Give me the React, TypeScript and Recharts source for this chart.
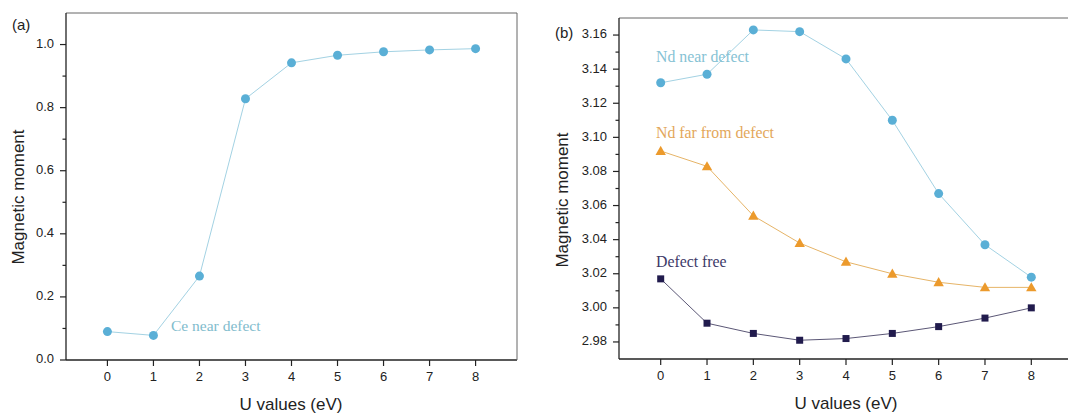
import React from "react";
import { LineChart, Line, XAxis, YAxis } from "recharts";

const uValues = [0, 1, 2, 3, 4, 5, 6, 7, 8];
const ceNearDefect = [0.09, 0.078, 0.266, 0.828, 0.942, 0.966, 0.977, 0.983, 0.987];
const ndNearDefect = [3.132, 3.137, 3.163, 3.162, 3.146, 3.11, 3.067, 3.037, 3.018];
const ndFarFromDefect = [3.092, 3.083, 3.054, 3.038, 3.027, 3.02, 3.015, 3.012, 3.012];
const defectFree = [3.017, 2.991, 2.985, 2.981, 2.982, 2.985, 2.989, 2.994, 3.0];

const xTicks = [0, 1, 2, 3, 4, 5, 6, 7, 8];
const yMajorA = [0, 0.2, 0.4, 0.6, 0.8, 1.0];
const yMinorA = [0.1, 0.3, 0.5, 0.7, 0.9];
const yMajorB = [2.98, 3.0, 3.02, 3.04, 3.06, 3.08, 3.1, 3.12, 3.14, 3.16];
const yMinorB = [2.99, 3.01, 3.03, 3.05, 3.07, 3.09, 3.11, 3.13, 3.15];

const dataA = uValues.map((u, i) => ({ u, ce: ceNearDefect[i] }));
const dataB = uValues.map((u, i) => ({
  u,
  near: ndNearDefect[i],
  far: ndFarFromDefect[i],
  free: defectFree[i],
}));

const SANS = "'Liberation Sans', Arial, sans-serif";
const SERIF = "'Liberation Serif', 'Times New Roman', serif";
const AXIS = "#222";
const FRAME = "#666";

const BLUE_DOT = "#5aafd6";
const BLUE_LINE = "#a3d2e3";
const ORANGE_DOT = "#ec9a2c";
const ORANGE_LINE = "#e6b467";
const NAVY_DOT = "#211b4d";
const NAVY_LINE = "#5b5776";

const makeYTick = (majors: number[], digits: number) => (props: any) => {
  const { x, y, payload } = props;
  const isMajor = majors.some((m) => Math.abs(m - payload.value) < 1e-6);
  return (
    <g>
      <line x1={x - (isMajor ? 6 : 3.5)} x2={x} y1={y} y2={y} stroke={AXIS} strokeWidth={1.2} />
      {isMajor && (
        <text
          x={x - 12}
          y={y}
          textAnchor="end"
          dominantBaseline="middle"
          fontFamily={SANS}
          fontSize={13}
          fill="#222"
        >
          {payload.value.toFixed(digits)}
        </text>
      )}
    </g>
  );
};

const XTick = (props: any) => {
  const { x, y, payload } = props;
  return (
    <g>
      <line x1={x} x2={x} y1={y} y2={y + 6} stroke={AXIS} strokeWidth={1.2} />
      <text
        x={x}
        y={y + 18}
        textAnchor="middle"
        dominantBaseline="middle"
        fontFamily={SANS}
        fontSize={13}
        fill="#222"
      >
        {payload.value}
      </text>
    </g>
  );
};

const SquareDot = (props: any) => {
  const { cx, cy, index } = props;
  return <rect key={`sq-${index}`} x={cx - 3.5} y={cy - 3.5} width={7} height={7} fill={NAVY_DOT} />;
};

const TriangleDot = (props: any) => {
  const { cx, cy, index } = props;
  const s = 5.2;
  return (
    <path
      key={`tri-${index}`}
      d={`M${cx},${cy - s} L${cx + s},${cy + s * 0.75} L${cx - s},${cy + s * 0.75} Z`}
      fill={ORANGE_DOT}
    />
  );
};

const Txt = ({
  left,
  top,
  children,
  style,
}: {
  left: number;
  top: number;
  children: React.ReactNode;
  style?: React.CSSProperties;
}) => (
  <div
    style={{
      position: "absolute",
      left,
      top,
      transform: "translateY(-50%)",
      whiteSpace: "nowrap",
      lineHeight: 1,
      ...style,
    }}
  >
    {children}
  </div>
);

const VLabel = ({ cx, cy }: { cx: number; cy: number }) => (
  <div
    style={{
      position: "absolute",
      left: cx,
      top: cy,
      transform: "translate(-50%, -50%) rotate(-90deg)",
      whiteSpace: "nowrap",
      fontFamily: SANS,
      fontSize: 17,
      lineHeight: 1,
      color: "#222",
    }}
  >
    Magnetic moment
  </div>
);

const HLabel = ({ cx, cy }: { cx: number; cy: number }) => (
  <div
    style={{
      position: "absolute",
      left: cx,
      top: cy,
      transform: "translate(-50%, -50%)",
      whiteSpace: "nowrap",
      fontFamily: SANS,
      fontSize: 17,
      lineHeight: 1,
      color: "#222",
    }}
  >
    U values (eV)
  </div>
);

const App = () => {
  return (
    <div
      style={{
        position: "absolute",
        left: 0,
        top: 0,
        width: 1068,
        height: 414,
        overflow: "hidden",
        background: "#fff",
      }}
    >
      {/* panel (a) */}
      <div style={{ position: "absolute", left: 0, top: 0 }}>
        <LineChart width={540} height={414} data={dataA} margin={{ top: 12, right: 22, bottom: 0, left: 0 }}>
          <XAxis
            dataKey="u"
            type="number"
            domain={[-0.9, 8.9]}
            ticks={xTicks}
            interval={0}
            height={54}
            tickSize={0}
            tickMargin={0}
            tickLine={false}
            tick={<XTick />}
            stroke={AXIS}
            strokeWidth={1.3}
          />
          <XAxis xAxisId="top" orientation="top" type="number" domain={[-0.9, 8.9]} height={1} tick={false} tickLine={false} stroke={FRAME} />
          <YAxis
            type="number"
            domain={[0, 1.1]}
            ticks={[...yMajorA, ...yMinorA].sort((p, q) => p - q)}
            interval={0}
            width={66}
            tickSize={0}
            tickMargin={0}
            tickLine={false}
            tick={makeYTick(yMajorA, 1)}
            stroke={AXIS}
            strokeWidth={1.3}
          />
          <YAxis yAxisId="right" orientation="right" type="number" domain={[0, 1.1]} width={1} tick={false} tickLine={false} stroke={FRAME} />
          <Line
            dataKey="ce"
            stroke={BLUE_LINE}
            strokeWidth={1}
            dot={{ r: 4.5, fill: BLUE_DOT, stroke: BLUE_DOT, strokeWidth: 0 }}
            isAnimationActive={false}
          />
        </LineChart>
      </div>

      {/* panel (b): plot box runs past the right edge of the picture */}
      <div style={{ position: "absolute", left: 540, top: 0, width: 528, height: 414, overflow: "hidden" }}>
        <LineChart width={540} height={414} data={dataB} margin={{ top: 17, right: 7, bottom: 0, left: 0 }}>
          <XAxis
            dataKey="u"
            type="number"
            domain={[-0.9, 8.9]}
            ticks={xTicks}
            interval={0}
            height={55}
            tickSize={0}
            tickMargin={0}
            tickLine={false}
            tick={<XTick />}
            stroke={AXIS}
            strokeWidth={1.3}
          />
          <XAxis xAxisId="top" orientation="top" type="number" domain={[-0.9, 8.9]} height={1} tick={false} tickLine={false} stroke={FRAME} />
          <YAxis
            type="number"
            domain={[2.97, 3.17]}
            ticks={[...yMajorB, ...yMinorB].sort((p, q) => p - q)}
            interval={0}
            width={79}
            tickSize={0}
            tickMargin={0}
            tickLine={false}
            tick={makeYTick(yMajorB, 2)}
            stroke={AXIS}
            strokeWidth={1.3}
            allowDataOverflow
          />
          <Line
            dataKey="near"
            stroke={BLUE_LINE}
            strokeWidth={1}
            dot={{ r: 4.5, fill: BLUE_DOT, stroke: BLUE_DOT, strokeWidth: 0 }}
            isAnimationActive={false}
          />
          <Line dataKey="far" stroke={ORANGE_LINE} strokeWidth={1} dot={TriangleDot} isAnimationActive={false} />
          <Line dataKey="free" stroke={NAVY_LINE} strokeWidth={1} dot={SquareDot} isAnimationActive={false} />
        </LineChart>
      </div>

      {/* panel tags, axis titles, series notes */}
      <Txt left={12} top={24} style={{ fontFamily: SANS, fontSize: 15, color: "#222" }}>
        (a)
      </Txt>
      <Txt left={555} top={32} style={{ fontFamily: SANS, fontSize: 15, color: "#222" }}>
        (b)
      </Txt>
      <VLabel cx={18} cy={197} />
      <VLabel cx={562} cy={200} />
      <HLabel cx={291} cy={404} />
      <HLabel cx={846} cy={403} />

      <Txt left={171} top={326} style={{ fontFamily: SERIF, fontSize: 15.5, color: "#7fbccd" }}>
        Ce near defect
      </Txt>
      <Txt left={656} top={57} style={{ fontFamily: SERIF, fontSize: 15.8, color: "#86c2d4" }}>
        Nd near defect
      </Txt>
      <Txt left={656} top={133} style={{ fontFamily: SERIF, fontSize: 15.8, color: "#e3a75a" }}>
        Nd far from defect
      </Txt>
      <Txt left={656} top={262} style={{ fontFamily: SERIF, fontSize: 15.8, color: "#3d3968" }}>
        Defect free
      </Txt>
    </div>
  );
};

export default App;
